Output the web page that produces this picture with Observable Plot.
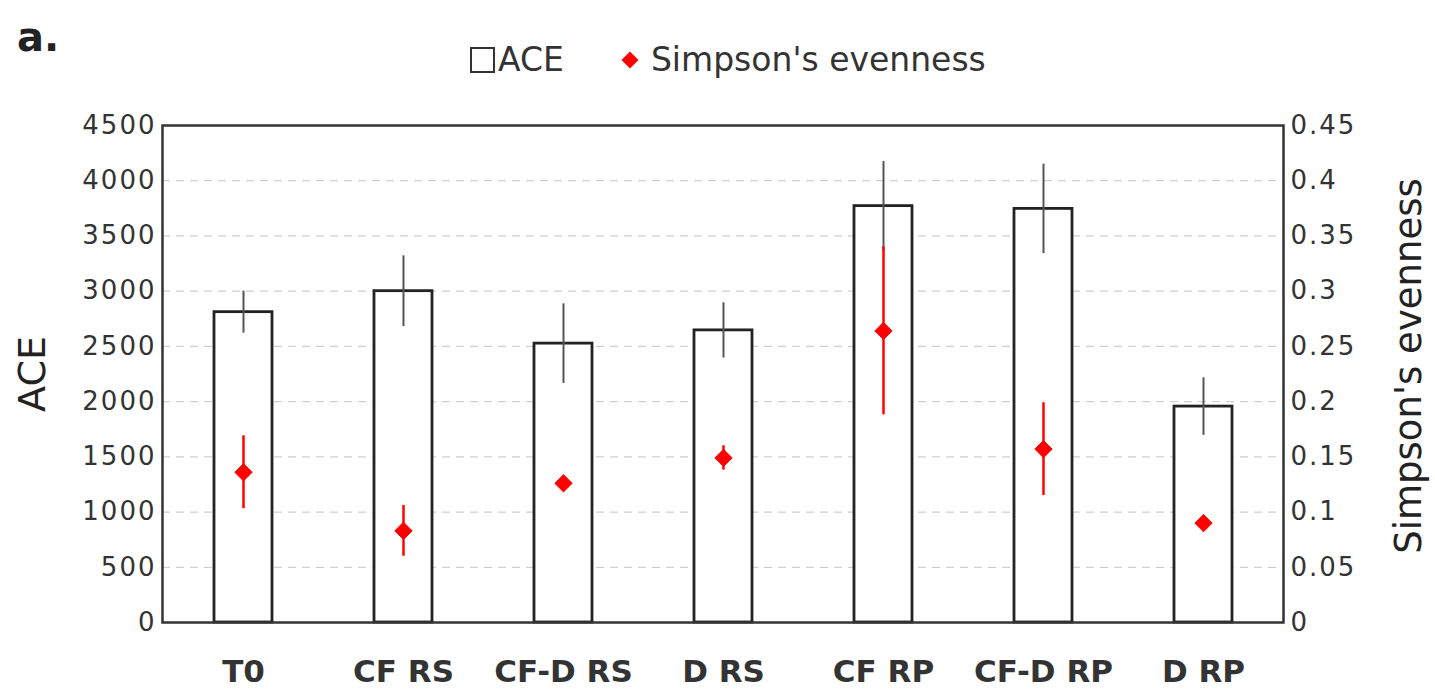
<!DOCTYPE html>
<html>
<head>
<meta charset="utf-8">
<script src="https://cdn.jsdelivr.net/npm/d3@7"></script>
<script src="https://cdn.jsdelivr.net/npm/@observablehq/plot@0.6"></script>
<style>
  html, body { margin: 0; padding: 0; background: #fff; }
  #wrap { position: relative; width: 1435px; height: 692px; font-family: "DejaVu Sans", sans-serif; color: #222; }
  .panel { position: absolute; left: 17px; top: 14px; font-size: 40px; font-weight: bold; }
  .legend { position: absolute; top: 40px; left: 470px; font-size: 33px; display: flex; align-items: center; white-space: nowrap; color: #333; }
  .legend .box { display: inline-block; width: 21px; height: 22px; border: 2.5px solid #333; margin-right: 3px; }
  .legend .dia { display: inline-block; width: 12px; height: 12px; background: red; transform: rotate(45deg); margin-left: 60px; margin-right: 15px; }
  #chart { position: absolute; left: 0; top: 0; }
  #chart g[aria-label="y-axis tick label"] text { letter-spacing: 2px; }
</style>
</head>
<body>
<div id="wrap">
  <div class="panel">a.</div>
  <div class="legend"><span class="box"></span><span>ACE</span><span class="dia"></span><span>Simpson's evenness</span></div>
  <div id="chart"></div>
</div>
<script>
const categories = ["T0", "CF RS", "CF-D RS", "D RS", "CF RP", "CF-D RP", "D RP"];
const aceMean = [2810, 3000, 2525, 2645, 3770, 3745, 1955];
const aceErr = [190, 320, 360, 250, 405, 405, 260];
const simpsonMean = [0.136, 0.083, 0.126, 0.149, 0.264, 0.157, 0.090];
const simpsonErr = [0.033, 0.023, 0.006, 0.011, 0.076, 0.042, 0.005];
const aceTicks = [0, 500, 1000, 1500, 2000, 2500, 3000, 3500, 4000, 4500];
const simpsonTicks = [0, 0.05, 0.1, 0.15, 0.2, 0.25, 0.3, 0.35, 0.4, 0.45];
const gridTicks = [500, 1000, 1500, 2000, 2500, 3000, 3500, 4000];

// Simpson's evenness is drawn on the same y scale (0–4500) as ACE: 0.45 ↔ 4500
const k = 4500 / 0.45;

const data = categories.map((c, i) => ({
  cat: c,
  ace: aceMean[i],
  aceErr: aceErr[i],
  sim: simpsonMean[i],
  simErr: simpsonErr[i]
}));

const chart = Plot.plot({
  width: 1435,
  height: 692,
  marginTop: 125,
  marginBottom: 70,
  marginLeft: 162,
  marginRight: 152,
  style: { fontFamily: "DejaVu Sans, sans-serif", color: "#333", background: "transparent" },
  x: { domain: categories, paddingInner: 0.64, paddingOuter: 0.32, label: null },
  y: { domain: [0, 4500], label: null },
  marks: [
    Plot.ruleY(gridTicks, { stroke: "#d0d0d0", strokeWidth: 1.2, strokeDasharray: "8,6" }),
    Plot.barY(data, { x: "cat", y: "ace", fill: "white", stroke: "#222", strokeWidth: 2.8 }),
    Plot.ruleX(data, { x: "cat", y1: d => d.ace - d.aceErr, y2: d => d.ace + d.aceErr, stroke: "#555", strokeWidth: 2 }),
    Plot.ruleX(data, { x: "cat", y1: d => (d.sim - d.simErr) * k, y2: d => (d.sim + d.simErr) * k, stroke: "red", strokeWidth: 2.5 }),
    Plot.dot(data, { x: "cat", y: d => d.sim * k, symbol: "diamond2", r: 7.8, fill: "red", stroke: "red", strokeWidth: 1 }),
    Plot.frame({ stroke: "#333", strokeWidth: 2.5 }),
    Plot.axisY(aceTicks, { anchor: "left", tickSize: 0, tickPadding: 6, fontSize: 26, label: null, tickFormat: d => String(d) }),
    Plot.axisY(simpsonTicks.map(v => v * k), {
      anchor: "right", tickSize: 0, tickPadding: 7, fontSize: 26, label: null,
      tickFormat: d => String(simpsonTicks[aceTicks.indexOf(Math.round(d))])
    }),
    Plot.axisX({ tickSize: 0, tickPadding: 37, fontSize: 31, fontWeight: "bold", label: null }),
    Plot.text(["ACE"], { frameAnchor: "left", dx: -130, rotate: -90, textAnchor: "middle", fontSize: 38, fill: "#222" }),
    Plot.text(["Simpson's evenness"], { frameAnchor: "right", dx: 126, dy: -8, rotate: -90, textAnchor: "middle", fontSize: 37, fill: "#222" })
  ]
});
document.getElementById("chart").appendChild(chart);
</script>
</body>
</html>
